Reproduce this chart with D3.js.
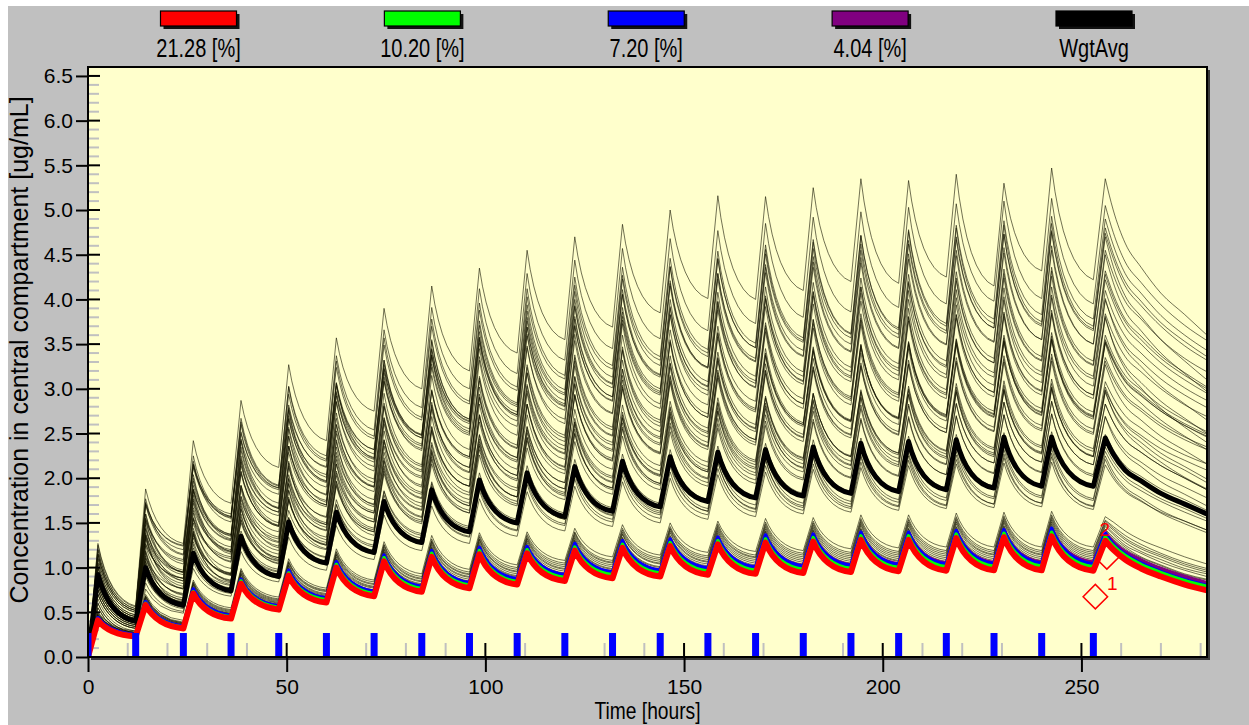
<!DOCTYPE html>
<html><head><meta charset="utf-8">
<script src="https://cdn.jsdelivr.net/npm/d3@7"></script>
<style>body{margin:0;background:#fff;overflow:hidden}</style>
</head><body>
<svg id="c" width="1249" height="725"></svg>
<script>
// ---------------- data ----------------
const doseTimes = [0,12,24,36,48,60,72,84,96,108,120,132,144,156,168,180,192,204,216,228,240,253];
const peakTimes = [2.5,14.5,26.5,38.5,50.5,62.5,74.5,86.5,98.5,110.5,122.5,134.5,146.5,158.5,170.5,182.5,194.5,206.5,218.5,230.5,242.5,256];
const tailTimes = [258,261,265,270,276,281.6];
const xTicks = [0,50,100,150,200,250];
const yTicks = [0,0.5,1,1.5,2,2.5,3,3.5,4,4.5,5,5.5,6,6.5];
const legendLabels = ["21.28 [%]","10.20 [%]","7.20 [%]","4.04 [%]","WgtAvg"];
const legendColors = ["#ff0000","#00ff00","#0000ff","#800080","#000000"];

const redPeaks = [0.41,0.58,0.71,0.82,0.91,1.00,1.07,1.12,1.15,1.16,1.19,1.22,1.24,1.26,1.28,1.29,1.31,1.31,1.33,1.34,1.35,1.30];
const redTroughs = [0.23,0.32,0.43,0.53,0.61,0.68,0.73,0.77,0.81,0.85,0.88,0.90,0.92,0.93,0.94,0.95,0.96,0.965,0.97,0.97,0.965];
const redTail = [1.20,1.09,0.99,0.90,0.81,0.745];

const greenPeaks = [0.42,0.60,0.73,0.85,0.94,1.035,1.11,1.16,1.19,1.20,1.23,1.26,1.28,1.30,1.32,1.335,1.355,1.355,1.375,1.385,1.395,1.345];
const greenTroughs = [0.24,0.335,0.45,0.555,0.64,0.71,0.765,0.805,0.845,0.89,0.92,0.94,0.96,0.97,0.98,0.99,1.00,1.01,1.015,1.015,1.01];
const greenTail = [1.245,1.135,1.035,0.945,0.855,0.79];

const bluePeaks = [0.44,0.62,0.76,0.87,0.97,1.065,1.14,1.19,1.225,1.235,1.27,1.30,1.32,1.34,1.365,1.375,1.395,1.395,1.415,1.425,1.44,1.385];
const blueTroughs = [0.25,0.345,0.465,0.57,0.66,0.735,0.79,0.83,0.875,0.92,0.95,0.97,0.995,1.005,1.015,1.025,1.035,1.04,1.045,1.045,1.04];
const blueTail = [1.26,1.15,1.05,0.955,0.865,0.80];

const purplePeaks = [0.435,0.615,0.755,0.865,0.965,1.06,1.135,1.185,1.22,1.23,1.265,1.295,1.315,1.335,1.36,1.37,1.39,1.39,1.41,1.42,1.435,1.39];
const purpleTroughs = [0.25,0.345,0.465,0.57,0.66,0.735,0.79,0.83,0.875,0.92,0.95,0.97,0.995,1.005,1.02,1.03,1.04,1.05,1.055,1.06,1.06];
const purpleTail = [1.285,1.18,1.085,0.99,0.90,0.83];

const avgPeaks = [0.92,1.0,1.16,1.35,1.51,1.62,1.74,1.87,1.98,2.06,2.13,2.19,2.24,2.29,2.32,2.35,2.39,2.41,2.43,2.46,2.46,2.45];
const avgTroughs = [0.40,0.58,0.74,0.90,1.05,1.17,1.28,1.40,1.50,1.57,1.63,1.68,1.74,1.78,1.80,1.83,1.85,1.87,1.89,1.91,1.91];
const avgTail = [2.27,2.09,1.97,1.83,1.71,1.60];

const upperPeaks = [
[1.27,1.88,2.42,2.87,3.27,3.57,3.9,4.15,4.35,4.55,4.7,4.84,5.0,5.16,5.15,5.25,5.35,5.33,5.4,5.3,5.47,5.35],
[1.10,1.60,2.04,2.42,2.76,3.06,3.32,3.55,3.76,3.94,4.09,4.23,4.36,4.46,4.56,4.64,4.71,4.78,4.83,4.88,4.93,4.90],
[1.20,1.77,2.25,2.67,3.02,3.31,3.57,3.78,3.96,4.12,4.25,4.36,4.46,4.54,4.61,4.67,4.72,4.76,4.80,4.83,4.85,4.80],
[0.95,1.52,2.00,2.42,2.77,3.06,3.32,3.53,3.71,3.87,4.00,4.11,4.21,4.29,4.36,4.42,4.47,4.51,4.55,4.58,4.60,4.55],
[1.05,1.48,1.85,2.18,2.47,2.73,2.95,3.15,3.32,3.48,3.61,3.73,3.83,3.93,4.01,4.08,4.14,4.20,4.24,4.29,4.32,4.28],
[0.90,1.43,1.87,2.25,2.57,2.85,3.08,3.28,3.45,3.59,3.71,3.81,3.90,3.98,4.04,4.09,4.14,4.18,4.21,4.24,4.26,4.22],
[1.15,1.70,2.15,2.52,2.82,3.07,3.27,3.44,3.58,3.69,3.78,3.86,3.92,3.97,4.01,4.04,4.07,4.10,4.11,4.13,4.14,4.10],
[0.85,1.32,1.72,2.07,2.36,2.60,2.81,2.99,3.14,3.27,3.38,3.47,3.55,3.62,3.68,3.73,3.77,3.80,3.83,3.86,3.88,3.84],
[1.0,1.34,1.64,1.91,2.14,2.35,2.53,2.69,2.83,2.95,3.06,3.15,3.24,3.31,3.37,3.43,3.48,3.53,3.56,3.60,3.63,3.60],
[0.80,1.24,1.61,1.92,2.19,2.41,2.61,2.77,2.91,3.03,3.13,3.22,3.29,3.35,3.40,3.45,3.49,3.52,3.55,3.57,3.59,3.55],
[1.10,1.55,1.92,2.22,2.47,2.67,2.84,2.98,3.09,3.18,3.26,3.32,3.37,3.41,3.45,3.47,3.50,3.51,3.53,3.54,3.55,3.52],
[0.75,1.16,1.50,1.79,2.04,2.25,2.43,2.58,2.71,2.83,2.92,3.00,3.07,3.12,3.17,3.21,3.25,3.28,3.31,3.33,3.35,3.31],
[0.90,1.19,1.44,1.66,1.86,2.03,2.19,2.32,2.44,2.54,2.63,2.71,2.78,2.84,2.90,2.95,2.99,3.03,3.06,3.09,3.11,3.08],
[0.70,1.07,1.38,1.65,1.87,2.06,2.23,2.37,2.48,2.58,2.67,2.74,2.80,2.85,2.90,2.94,2.97,3.00,3.02,3.04,3.06,3.02],
[1.0,1.37,1.67,1.92,2.12,2.29,2.43,2.54,2.63,2.71,2.77,2.82,2.86,2.90,2.92,2.95,2.96,2.98,2.99,3.00,3.01,2.98],
[0.65,1.00,1.29,1.54,1.75,1.93,2.08,2.21,2.32,2.42,2.50,2.57,2.62,2.67,2.71,2.75,2.78,2.81,2.83,2.85,2.86,2.83],
[0.80,1.10,1.36,1.57,1.76,1.91,2.05,2.16,2.26,2.34,2.41,2.47,2.52,2.56,2.59,2.63,2.65,2.67,2.69,2.71,2.72,2.69],
[0.95,1.27,1.54,1.76,1.94,2.08,2.20,2.30,2.38,2.45,2.50,2.55,2.58,2.61,2.64,2.66,2.67,2.69,2.70,2.71,2.72,2.69],
[0.60,0.90,1.16,1.37,1.56,1.71,1.85,1.96,2.06,2.14,2.21,2.27,2.32,2.36,2.39,2.43,2.45,2.47,2.49,2.51,2.52,2.49],
[0.75,1.01,1.22,1.41,1.56,1.70,1.81,1.91,1.99,2.06,2.12,2.17,2.21,2.24,2.28,2.30,2.32,2.34,2.36,2.37,2.38,2.35],
[0.85,1.11,1.33,1.50,1.64,1.76,1.86,1.94,2.00,2.06,2.10,2.14,2.17,2.19,2.21,2.23,2.24,2.25,2.26,2.27,2.28,2.25],
[0.55,0.83,1.06,1.26,1.43,1.58,1.70,1.81,1.90,1.97,2.04,2.09,2.14,2.18,2.21,2.24,2.26,2.28,2.30,2.32,2.33,2.30],
[0.70,0.94,1.14,1.32,1.47,1.59,1.70,1.79,1.86,1.93,1.99,2.03,2.07,2.11,2.14,2.16,2.18,2.20,2.21,2.23,2.24,2.21],
[0.50,0.76,0.99,1.18,1.34,1.47,1.59,1.69,1.77,1.85,1.91,1.96,2.00,2.04,2.07,2.10,2.12,2.14,2.16,2.17,2.18,2.15],
[0.85,1.36,1.81,2.20,2.55,2.86,3.13,3.36,3.57,3.76,3.92,4.06,4.18,4.29,4.39,4.48,4.55,4.62,4.67,4.73,4.77,4.74],
[1.15,1.71,2.19,2.60,2.94,3.24,3.49,3.70,3.88,4.03,4.16,4.27,4.37,4.45,4.51,4.57,4.62,4.66,4.70,4.73,4.75,4.70],
[1.0,1.53,1.97,2.35,2.67,2.95,3.18,3.38,3.55,3.69,3.81,3.91,4.00,4.08,4.14,4.19,4.24,4.28,4.31,4.34,4.36,4.32],
[0.75,1.18,1.55,1.88,2.17,2.43,2.65,2.85,3.02,3.18,3.31,3.43,3.53,3.63,3.71,3.78,3.84,3.90,3.94,3.99,4.02,3.99],
[1.2,1.72,2.15,2.50,2.79,3.03,3.22,3.38,3.51,3.61,3.70,3.77,3.83,3.88,3.92,3.95,3.98,4.00,4.02,4.03,4.05,4.01],
[0.90,1.36,1.75,2.08,2.36,2.60,2.80,2.97,3.12,3.24,3.35,3.44,3.52,3.58,3.64,3.68,3.72,3.76,3.79,3.81,3.83,3.79],
[0.70,1.07,1.40,1.69,1.94,2.16,2.36,2.53,2.69,2.82,2.94,3.04,3.13,3.21,3.28,3.34,3.40,3.45,3.49,3.53,3.56,3.53],
[1.05,1.44,1.77,2.05,2.29,2.50,2.67,2.82,2.94,3.05,3.14,3.22,3.28,3.34,3.38,3.42,3.46,3.49,3.51,3.53,3.55,3.51],
[0.60,1.04,1.41,1.72,1.99,2.21,2.41,2.57,2.71,2.83,2.93,3.02,3.09,3.15,3.20,3.25,3.29,3.32,3.35,3.37,3.39,3.35],
[1.15,1.55,1.87,2.14,2.36,2.53,2.68,2.80,2.90,2.98,3.05,3.10,3.15,3.18,3.21,3.24,3.26,3.27,3.29,3.30,3.31,3.27],
[0.85,1.13,1.38,1.60,1.79,1.96,2.11,2.24,2.36,2.46,2.55,2.62,2.69,2.75,2.81,2.86,2.90,2.93,2.97,2.99,3.02,2.99],
[0.80,1.39,1.88,2.31,2.66,2.97,3.23,3.45,3.64,3.80,3.93,4.05,4.15,4.23,4.30,4.36,4.41,4.45,4.49,4.52,4.55,4.50],
[0.90,1.26,1.56,1.80,2.00,2.16,2.29,2.40,2.49,2.57,2.63,2.68,2.72,2.75,2.78,2.80,2.82,2.83,2.84,2.85,2.86,2.83],
[0.95,1.60,2.16,2.63,3.03,3.37,3.66,3.91,4.12,4.29,4.44,4.57,4.68,4.77,4.85,4.92,4.98,5.03,5.07,5.10,5.13,5.05],
[0.55,0.93,1.26,1.53,1.77,1.97,2.14,2.28,2.41,2.51,2.60,2.67,2.74,2.79,2.84,2.88,2.91,2.94,2.96,2.98,3.00,2.96],
[1.25,1.73,2.12,2.44,2.70,2.92,3.09,3.24,3.36,3.46,3.54,3.60,3.66,3.70,3.74,3.77,3.79,3.81,3.83,3.84,3.85,3.81]
];
const upperTroughs = [
[0.57,1.27,1.72,2.12,2.42,2.75,3.0,3.2,3.4,3.55,3.69,3.85,4.01,4.0,4.1,4.2,4.18,4.25,4.15,4.32,4.22],
[0.50,0.94,1.32,1.66,1.96,2.22,2.45,2.66,2.84,2.99,3.13,3.26,3.36,3.46,3.54,3.61,3.68,3.73,3.78,3.83,3.78],
[0.54,1.15,1.57,1.92,2.21,2.47,2.68,2.86,3.02,3.15,3.26,3.36,3.44,3.51,3.57,3.62,3.66,3.70,3.73,3.75,3.70],
[0.43,0.95,1.37,1.72,2.01,2.27,2.48,2.66,2.82,2.95,3.06,3.16,3.24,3.31,3.37,3.42,3.46,3.50,3.53,3.55,3.50],
[0.47,0.85,1.18,1.47,1.73,1.95,2.15,2.32,2.48,2.61,2.73,2.83,2.93,3.01,3.08,3.14,3.20,3.24,3.29,3.32,3.27],
[0.41,0.92,1.30,1.62,1.90,2.13,2.33,2.50,2.64,2.76,2.86,2.95,3.03,3.09,3.14,3.19,3.23,3.26,3.29,3.31,3.26],
[0.52,1.20,1.57,1.87,2.12,2.32,2.49,2.63,2.74,2.83,2.91,2.97,3.02,3.06,3.09,3.12,3.15,3.16,3.18,3.19,3.14],
[0.38,0.82,1.17,1.46,1.70,1.91,2.09,2.24,2.37,2.48,2.57,2.65,2.72,2.78,2.83,2.87,2.90,2.93,2.96,2.98,2.93],
[0.45,0.79,1.06,1.29,1.50,1.68,1.84,1.98,2.10,2.21,2.30,2.39,2.46,2.52,2.58,2.63,2.68,2.71,2.75,2.78,2.74],
[0.36,0.76,1.07,1.34,1.56,1.76,1.92,2.06,2.18,2.28,2.37,2.44,2.50,2.55,2.60,2.64,2.67,2.70,2.72,2.74,2.70],
[0.50,1.07,1.37,1.62,1.82,1.99,2.13,2.24,2.33,2.41,2.47,2.52,2.56,2.60,2.62,2.65,2.66,2.68,2.69,2.70,2.66],
[0.34,0.70,0.99,1.24,1.45,1.63,1.78,1.91,2.03,2.12,2.20,2.27,2.32,2.37,2.41,2.45,2.48,2.51,2.53,2.55,2.51],
[0.41,0.69,0.91,1.11,1.28,1.44,1.57,1.69,1.79,1.88,1.96,2.03,2.09,2.15,2.20,2.24,2.28,2.31,2.34,2.36,2.33],
[0.32,0.66,0.93,1.15,1.34,1.51,1.65,1.76,1.86,1.95,2.02,2.08,2.13,2.18,2.22,2.25,2.28,2.30,2.32,2.34,2.30],
[0.45,0.95,1.20,1.40,1.57,1.71,1.82,1.91,1.99,2.05,2.10,2.14,2.18,2.20,2.23,2.24,2.26,2.27,2.28,2.29,2.25],
[0.29,0.61,0.86,1.07,1.25,1.40,1.53,1.64,1.74,1.82,1.89,1.94,1.99,2.03,2.07,2.10,2.13,2.15,2.17,2.18,2.15],
[0.36,0.71,0.92,1.11,1.26,1.40,1.51,1.61,1.69,1.76,1.82,1.87,1.91,1.94,1.98,2.00,2.02,2.04,2.06,2.07,2.04],
[0.43,0.88,1.10,1.28,1.42,1.54,1.64,1.72,1.79,1.84,1.89,1.92,1.95,1.98,2.00,2.01,2.03,2.04,2.05,2.06,2.02],
[0.27,0.56,0.77,0.96,1.11,1.25,1.36,1.46,1.54,1.61,1.67,1.72,1.76,1.79,1.83,1.85,1.87,1.89,1.91,1.92,1.89],
[0.34,0.64,0.83,0.98,1.12,1.23,1.33,1.41,1.48,1.54,1.59,1.63,1.66,1.70,1.72,1.74,1.76,1.78,1.79,1.80,1.77],
[0.38,0.77,0.94,1.08,1.20,1.30,1.38,1.44,1.50,1.54,1.58,1.61,1.63,1.65,1.67,1.68,1.69,1.70,1.71,1.72,1.68],
[0.25,0.51,0.71,0.88,1.03,1.15,1.26,1.35,1.42,1.49,1.54,1.59,1.63,1.66,1.69,1.71,1.73,1.75,1.77,1.78,1.75],
[0.32,0.62,0.80,0.95,1.07,1.18,1.27,1.34,1.41,1.47,1.51,1.55,1.59,1.62,1.64,1.66,1.68,1.69,1.71,1.72,1.69],
[0.23,0.49,0.68,0.84,0.97,1.09,1.19,1.27,1.35,1.41,1.46,1.50,1.54,1.57,1.60,1.62,1.64,1.66,1.67,1.68,1.65],
[0.38,0.76,1.15,1.50,1.81,2.08,2.31,2.52,2.71,2.87,3.01,3.13,3.24,3.34,3.43,3.50,3.57,3.62,3.68,3.72,3.67],
[0.52,1.14,1.55,1.89,2.19,2.44,2.65,2.83,2.98,3.11,3.22,3.32,3.40,3.46,3.52,3.57,3.61,3.65,3.68,3.70,3.65],
[0.45,0.97,1.35,1.67,1.95,2.18,2.38,2.55,2.69,2.81,2.91,3.00,3.08,3.14,3.19,3.24,3.28,3.31,3.34,3.36,3.31],
[0.34,0.60,0.93,1.22,1.48,1.70,1.90,2.07,2.23,2.36,2.48,2.58,2.68,2.76,2.83,2.89,2.95,2.99,3.04,3.07,3.03],
[0.54,1.25,1.60,1.89,2.13,2.32,2.48,2.61,2.71,2.80,2.87,2.93,2.98,3.02,3.05,3.08,3.10,3.12,3.13,3.15,3.11],
[0.41,0.85,1.18,1.46,1.70,1.90,2.07,2.22,2.34,2.45,2.54,2.62,2.68,2.74,2.78,2.82,2.86,2.89,2.91,2.93,2.89],
[0.32,0.55,0.84,1.09,1.31,1.51,1.68,1.84,1.97,2.09,2.19,2.28,2.36,2.43,2.49,2.55,2.60,2.64,2.68,2.71,2.68],
[0.47,0.95,1.23,1.47,1.68,1.85,2.00,2.12,2.23,2.32,2.40,2.46,2.52,2.56,2.60,2.64,2.67,2.69,2.71,2.73,2.69],
[0.27,0.61,0.92,1.19,1.41,1.61,1.77,1.91,2.03,2.13,2.22,2.29,2.35,2.40,2.45,2.49,2.52,2.55,2.57,2.59,2.55],
[0.52,1.09,1.36,1.58,1.75,1.90,2.02,2.12,2.20,2.27,2.32,2.37,2.40,2.43,2.46,2.48,2.49,2.51,2.52,2.53,2.49],
[0.38,0.63,0.85,1.04,1.21,1.36,1.49,1.61,1.71,1.80,1.87,1.94,2.00,2.06,2.11,2.15,2.18,2.22,2.24,2.27,2.24],
[0.36,0.88,1.31,1.66,1.97,2.23,2.45,2.64,2.80,2.93,3.05,3.15,3.23,3.30,3.36,3.41,3.45,3.49,3.52,3.55,3.50],
[0.41,0.88,1.12,1.32,1.48,1.61,1.72,1.81,1.89,1.95,2.00,2.04,2.07,2.10,2.12,2.14,2.15,2.16,2.17,2.18,2.15],
[0.43,1.04,1.51,1.91,2.25,2.54,2.79,3.00,3.17,3.32,3.45,3.56,3.65,3.73,3.80,3.86,3.91,3.95,3.98,4.01,3.95],
[0.25,0.54,0.81,1.05,1.25,1.42,1.56,1.69,1.79,1.88,1.95,2.02,2.07,2.12,2.16,2.19,2.22,2.24,2.26,2.28,2.24],
[0.56,1.24,1.56,1.82,2.04,2.21,2.36,2.48,2.58,2.66,2.72,2.78,2.82,2.86,2.89,2.91,2.93,2.95,2.96,2.97,2.93]
];
const upperTails = [
[5.0,4.63,4.36,4.07,3.83,3.60],
[4.61,4.29,4.07,3.82,3.60,3.43],
[4.51,4.20,3.98,3.74,3.53,3.36],
[4.28,3.98,3.78,3.55,3.34,3.19],
[4.02,3.75,3.55,3.34,3.15,3.00],
[3.97,3.69,3.50,3.29,3.10,2.95],
[3.85,3.59,3.40,3.20,3.01,2.87],
[3.61,3.36,3.19,3.00,2.82,2.69],
[3.38,3.15,2.99,2.81,2.65,2.52],
[3.34,3.11,2.95,2.77,2.61,2.49],
[3.31,3.08,2.92,2.75,2.59,2.46],
[3.11,2.90,2.75,2.58,2.43,2.32],
[2.90,2.70,2.56,2.40,2.26,2.16],
[2.81,2.60,2.45,2.28,2.13,1.99],
[2.74,2.52,2.35,2.18,2.01,1.88],
[2.63,2.43,2.29,2.14,2.00,1.87],
[2.50,2.31,2.18,2.03,1.90,1.78],
[2.47,2.27,2.13,1.96,1.82,1.69],
[2.32,2.14,2.02,1.88,1.76,1.64],
[2.19,2.02,1.90,1.77,1.66,1.55],
[2.07,1.90,1.78,1.64,1.52,1.42],
[2.14,1.98,1.86,1.74,1.62,1.52],
[2.03,1.87,1.75,1.61,1.49,1.39],
[2.00,1.85,1.74,1.62,1.52,1.42],
[4.46,4.15,3.93,3.70,3.48,3.32],
[4.37,4.04,3.81,3.55,3.31,3.10],
[4.06,3.78,3.59,3.37,3.18,3.02],
[3.75,3.49,3.31,3.11,2.93,2.79],
[3.73,3.45,3.25,3.03,2.83,2.65],
[3.52,3.26,3.07,2.86,2.67,2.50],
[3.32,3.09,2.93,2.75,2.59,2.47],
[3.26,3.02,2.84,2.65,2.47,2.32],
[3.15,2.93,2.78,2.61,2.46,2.35],
[3.04,2.81,2.65,2.47,2.31,2.16],
[2.81,2.62,2.48,2.33,2.20,2.09],
[4.19,3.87,3.65,3.40,3.17,2.97],
[2.63,2.43,2.29,2.14,2.00,1.87],
[4.75,4.42,4.19,3.94,3.71,3.54],
[2.75,2.55,2.40,2.23,2.09,1.95],
[3.51,3.22,3.01,2.78,2.57,2.40]
];

const lowerPeaks = [
[0.43,0.61,0.75,0.86,0.96,1.05,1.12,1.18,1.21,1.22,1.25,1.28,1.30,1.32,1.34,1.35,1.38,1.38,1.40,1.41,1.42,1.37],
[0.45,0.63,0.77,0.89,0.99,1.09,1.17,1.22,1.25,1.26,1.30,1.33,1.35,1.37,1.40,1.41,1.43,1.43,1.45,1.46,1.47,1.42],
[0.46,0.65,0.80,0.92,1.02,1.12,1.20,1.25,1.29,1.30,1.33,1.37,1.39,1.41,1.43,1.44,1.47,1.47,1.49,1.50,1.51,1.46],
[0.47,0.67,0.82,0.94,1.05,1.15,1.23,1.29,1.32,1.33,1.37,1.40,1.43,1.45,1.47,1.48,1.51,1.51,1.53,1.54,1.55,1.50],
[0.48,0.68,0.84,0.97,1.07,1.18,1.26,1.32,1.36,1.37,1.40,1.44,1.46,1.49,1.51,1.52,1.55,1.55,1.57,1.58,1.59,1.53],
[0.50,0.70,0.86,0.99,1.10,1.21,1.29,1.36,1.39,1.40,1.44,1.48,1.50,1.52,1.55,1.56,1.59,1.59,1.61,1.62,1.63,1.57],
[0.44,0.62,0.76,0.88,0.97,1.07,1.14,1.20,1.23,1.24,1.27,1.31,1.33,1.35,1.37,1.38,1.40,1.40,1.42,1.43,1.44,1.39],
[0.45,0.64,0.78,0.90,1.00,1.10,1.18,1.23,1.27,1.28,1.31,1.34,1.36,1.39,1.41,1.42,1.44,1.44,1.46,1.47,1.49,1.43],
[0.47,0.66,0.81,0.93,1.03,1.14,1.21,1.27,1.31,1.32,1.35,1.38,1.41,1.43,1.45,1.46,1.49,1.49,1.51,1.52,1.53,1.48],
[0.48,0.68,0.83,0.96,1.06,1.17,1.25,1.30,1.34,1.35,1.39,1.42,1.44,1.47,1.49,1.50,1.53,1.53,1.55,1.56,1.57,1.52]
];
const lowerTroughs = [
[0.24,0.34,0.46,0.56,0.65,0.72,0.77,0.82,0.86,0.90,0.93,0.95,0.98,0.99,1.00,1.01,1.02,1.02,1.03,1.03,1.02],
[0.26,0.36,0.48,0.59,0.68,0.75,0.81,0.85,0.90,0.94,0.98,1.00,1.02,1.03,1.04,1.05,1.07,1.07,1.08,1.08,1.07],
[0.26,0.37,0.49,0.61,0.70,0.78,0.84,0.89,0.93,0.98,1.01,1.04,1.06,1.07,1.08,1.09,1.10,1.11,1.12,1.12,1.11],
[0.27,0.38,0.51,0.63,0.73,0.81,0.87,0.92,0.96,1.01,1.05,1.07,1.09,1.11,1.12,1.13,1.14,1.15,1.15,1.15,1.15],
[0.28,0.39,0.53,0.65,0.75,0.84,0.90,0.95,1.00,1.05,1.08,1.11,1.13,1.14,1.16,1.17,1.18,1.19,1.19,1.19,1.19],
[0.29,0.41,0.55,0.67,0.77,0.86,0.93,0.98,1.03,1.08,1.12,1.14,1.17,1.18,1.19,1.21,1.22,1.23,1.23,1.23,1.23],
[0.25,0.35,0.47,0.58,0.66,0.74,0.79,0.84,0.88,0.92,0.95,0.98,1.00,1.01,1.02,1.03,1.04,1.05,1.05,1.05,1.05],
[0.26,0.36,0.48,0.60,0.69,0.77,0.82,0.87,0.91,0.96,0.99,1.01,1.04,1.05,1.06,1.07,1.08,1.09,1.10,1.10,1.09],
[0.27,0.37,0.50,0.62,0.71,0.79,0.85,0.90,0.95,0.99,1.03,1.05,1.07,1.09,1.10,1.11,1.12,1.13,1.14,1.14,1.13],
[0.27,0.38,0.52,0.64,0.74,0.82,0.88,0.93,0.98,1.03,1.06,1.09,1.11,1.12,1.14,1.15,1.16,1.17,1.17,1.17,1.17]
];
const lowerTails = [
[1.27,1.16,1.06,0.97,0.87,0.81],
[1.32,1.21,1.11,1.02,0.92,0.86],
[1.37,1.25,1.16,1.06,0.97,0.90],
[1.42,1.31,1.21,1.12,1.02,0.95],
[1.46,1.36,1.26,1.16,1.06,0.99],
[1.51,1.41,1.31,1.22,1.12,1.04],
[1.31,1.19,1.09,0.99,0.90,0.83],
[1.34,1.23,1.12,1.03,0.93,0.87],
[1.39,1.28,1.18,1.09,0.99,0.93],
[1.44,1.33,1.23,1.14,1.04,0.97]
];

const obsTimes = [253.5,256.4];
const obsConc = [0.675,1.12];
const obsLabels = ["1","2"];

// ---------------- drawing ----------------
const W = 1249, H = 725;
const FONT = '"Liberation Sans", Arial, sans-serif';
const svg = d3.select("#c");
const x = d3.scaleLinear().domain([0, 281.6]).range([88, 1207]);
const y = d3.scaleLinear().domain([0, 6.6]).range([657, 67]);
const pw = x.range()[1] - x.range()[0], ph = y.range()[0] - y.range()[1];

svg.append("rect").attr("width", W).attr("height", H).attr("fill", "#fff");
svg.append("rect").attr("x", 8).attr("y", 6).attr("width", W - 8).attr("height", H - 6).attr("fill", "#c0c0c0");

svg.append("rect").attr("x", x(0) + 3).attr("y", y(6.6) + 3).attr("width", pw).attr("height", ph).attr("fill", "#3a3a3a");
svg.append("rect").attr("x", x(0)).attr("y", y(6.6)).attr("width", pw).attr("height", ph).attr("fill", "#ffffcc");

svg.append("defs").append("clipPath").attr("id", "clip")
  .append("rect").attr("x", x(0)).attr("y", y(6.6)).attr("width", pw).attr("height", ph);

const minorY = d3.range(1, 66).filter(i => i % 5 !== 0).map(i => i / 10);
svg.append("g").selectAll("line").data(minorY).join("line")
  .attr("x1", x(0) + 1).attr("x2", x(0) + 11)
  .attr("y1", d => y(d)).attr("y2", d => y(d))
  .attr("stroke", "#c0c0c0").attr("stroke-width", 2);
const minorX = d3.range(10, 290, 10).filter(d => d % 50 !== 0 && d < 281.6);
svg.append("g").selectAll("line").data(minorX).join("line")
  .attr("x1", d => x(d)).attr("x2", d => x(d))
  .attr("y1", y(0) - 1).attr("y2", y(0) - 14)
  .attr("stroke", "#c0c0c0").attr("stroke-width", 2);

const plot = svg.append("g").attr("clip-path", "url(#clip)");

const obs = obsTimes.map((t, i) => ({t, c: obsConc[i], label: obsLabels[i]}));
plot.selectAll("path.obs").data(obs).join("path").attr("class", "obs")
  .attr("d", d3.symbol().type(d3.symbolSquare).size(300))
  .attr("transform", d => `translate(${x(d.t)},${y(d.c)}) rotate(45)`)
  .attr("fill", "none").attr("stroke", "#ff0000").attr("stroke-width", 1.5);

function buildPath(peaks, troughs, tail) {
  const p = d3.path();
  p.moveTo(x(doseTimes[0]), y(0));
  for (let n = 0; n < peaks.length; n++) {
    if (n > 0) {
      const x0 = x(peakTimes[n - 1]), y0 = y(peaks[n - 1]);
      const x1 = x(doseTimes[n]), y1 = y(troughs[n - 1]);
      p.quadraticCurveTo(x0 + 0.3 * (x1 - x0), y0 + 0.9 * (y1 - y0), x1, y1);
    }
    p.lineTo(x(peakTimes[n]), y(peaks[n]));
  }
  const last = peaks.length - 1;
  const pts = [[peakTimes[last], peaks[last]]].concat(tailTimes.map((t, i) => [t, tail[i]]));
  const tp = d3.line().x(d => x(d[0])).y(d => y(d[1])).curve(d3.curveMonotoneX)(pts);
  return p.toString() + tp.replace(/^M/, "L");
}

const thin = plot.append("g").attr("fill", "none").attr("stroke", "#141400")
  .attr("stroke-opacity", 0.6).attr("stroke-width", 1).attr("stroke-linejoin", "round");
upperPeaks.forEach((pk, i) => thin.append("path").attr("d", buildPath(pk, upperTroughs[i], upperTails[i])));
lowerPeaks.forEach((pk, i) => thin.append("path").attr("d", buildPath(pk, lowerTroughs[i], lowerTails[i])));

const main = [
  {p: avgPeaks, t: avgTroughs, tail: avgTail, c: "#000000", w: 5},
  {p: purplePeaks, t: purpleTroughs, tail: purpleTail, c: "#800080", w: 3.5},
  {p: bluePeaks, t: blueTroughs, tail: blueTail, c: "#0000ff", w: 3.5},
  {p: greenPeaks, t: greenTroughs, tail: greenTail, c: "#00ff00", w: 3.5},
  {p: redPeaks, t: redTroughs, tail: redTail, c: "#ff0000", w: 6}
];
plot.selectAll("path.main").data(main).join("path").attr("class", "main")
  .attr("d", d => buildPath(d.p, d.t, d.tail))
  .attr("fill", "none").attr("stroke", d => d.c).attr("stroke-width", d => d.w)
  .attr("stroke-linejoin", "round");

plot.selectAll("rect.dose").data(doseTimes).join("rect").attr("class", "dose")
  .attr("x", d => x(d) - 3.5).attr("y", y(0) - 24).attr("width", 7).attr("height", 24)
  .attr("fill", "#0000ff");

svg.selectAll("text.obsl").data(obs).join("text").attr("class", "obsl")
  .attr("x", d => x(d.t) + (d.label === "1" ? 17 : -2))
  .attr("y", d => y(d.c) + (d.label === "1" ? -7 : -21))
  .attr("text-anchor", "middle").attr("font-family", FONT).attr("font-size", 19)
  .attr("fill", "#ff0000").text(d => d.label);

svg.append("rect").attr("x", x(0)).attr("y", y(6.6)).attr("width", pw).attr("height", ph)
  .attr("fill", "none").attr("stroke", "#000").attr("stroke-width", 2);

svg.append("g").selectAll("line").data(yTicks).join("line")
  .attr("x1", x(0)).attr("x2", x(0) + 12).attr("y1", d => y(d)).attr("y2", d => y(d))
  .attr("stroke", "#000").attr("stroke-width", 2);
svg.append("g").selectAll("line").data(xTicks).join("line")
  .attr("x1", d => x(d)).attr("x2", d => x(d)).attr("y1", y(0)).attr("y2", y(0) - 14)
  .attr("stroke", "#000").attr("stroke-width", 2);

const gy = svg.append("g").attr("transform", `translate(${x(0)},0)`)
  .call(d3.axisLeft(y).tickValues(yTicks).tickFormat(d3.format(".1f")).tickSize(12).tickPadding(3));
gy.select(".domain").remove();
gy.selectAll("line").attr("stroke", "#000").attr("stroke-width", 2);
gy.selectAll("text").attr("font-family", FONT).attr("font-size", 21).attr("fill", "#000");

const gx = svg.append("g").attr("transform", `translate(0,${y(0)})`)
  .call(d3.axisBottom(x).tickValues(xTicks).tickFormat(d3.format("d")).tickSize(15).tickPadding(7));
gx.select(".domain").remove();
gx.selectAll("line").attr("stroke", "#000").attr("stroke-width", 2);
gx.selectAll("text").attr("font-family", FONT).attr("font-size", 21).attr("fill", "#000");

svg.append("text").attr("transform", "translate(647.5,719) scale(0.8,1)")
  .attr("text-anchor", "middle").attr("font-family", FONT).attr("font-size", 24)
  .text("Time [hours]");
svg.append("text").attr("transform", "translate(28,350) rotate(-90)")
  .attr("text-anchor", "middle").attr("font-family", FONT).attr("font-size", 25)
  .text("Concentration in central compartment [ug/mL]");

const legX = d3.scalePoint().domain(legendLabels).range([198.5, 1094]);
const leg = svg.append("g").selectAll("g").data(legendLabels).join("g")
  .attr("transform", d => `translate(${legX(d)},0)`);
leg.append("rect").attr("x", -38 + 3).attr("y", 11 + 3).attr("width", 76).attr("height", 15).attr("fill", "#111");
leg.append("rect").attr("x", -38).attr("y", 11).attr("width", 76).attr("height", 15)
  .attr("fill", (d, i) => legendColors[i]).attr("stroke", "#000").attr("stroke-width", 1.2);
leg.append("text").attr("transform", "translate(0,57) scale(0.8,1)").attr("text-anchor", "middle")
  .attr("font-family", FONT).attr("font-size", 25).attr("fill", "#000").text(d => d);
</script>
</body></html>
